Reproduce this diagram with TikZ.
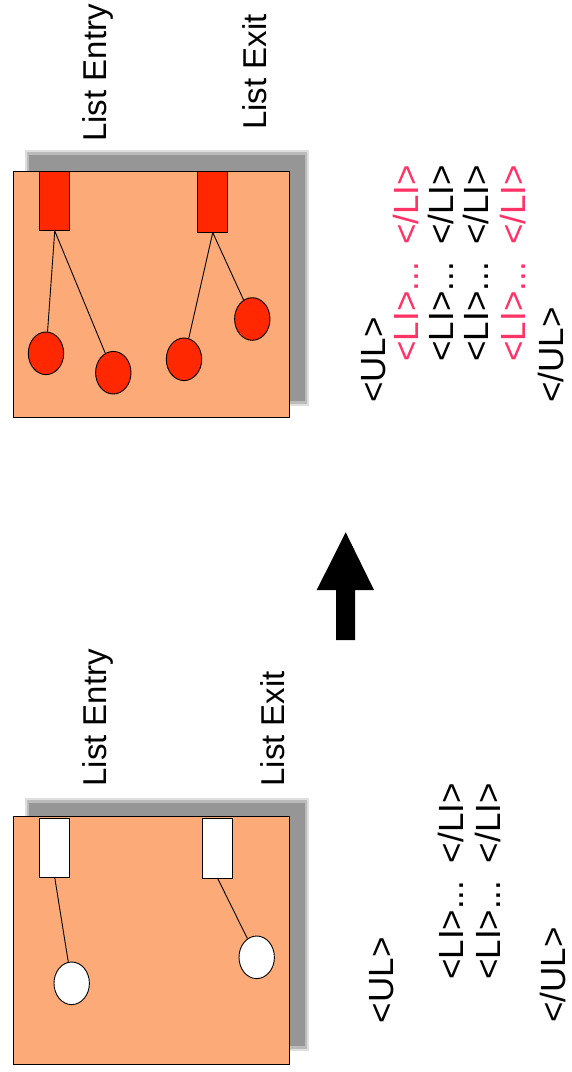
\documentclass[tikz,border=0pt]{standalone}
\usepackage{fontspec}
\setmainfont{Liberation Sans}
\usetikzlibrary{shapes.geometric}
\definecolor{boxfill}{RGB}{252,170,120}
\definecolor{redfill}{RGB}{255,40,0}
\definecolor{pinktext}{RGB}{255,51,102}
\definecolor{shadowgray}{RGB}{150,150,150}
\begin{document}
\begin{tikzpicture}[x=1pt,y=-1pt,
  panel/.style={draw=black,line width=0.9pt,fill=boxfill},
  port/.style={draw=black,line width=0.9pt,minimum width=30pt,minimum height=59pt,inner sep=0pt,anchor=north west},
  ball/.style={ellipse,draw=black,line width=0.9pt,minimum width=35.4pt,minimum height=42.6pt,inner sep=0pt},
  link/.style={line width=0.9pt},
  lbl/.style={rotate=90,anchor=base west,font=\fontsize{33}{40}\selectfont,inner sep=0pt},
  code/.style={rotate=90,anchor=base west,font=\fontsize{35}{42}\selectfont,inner sep=0pt},
  pink/.style={text=pinktext},
]
\useasboundingbox (0,0) rectangle (572,1072);

% ---------- top panel ----------
\fill[shadowgray!30] (25,150) rectangle (309,406);
\fill[shadowgray!65] (27,152) rectangle (307,404);
\fill[shadowgray] (29,155) rectangle (305,401);
\draw[panel] (13.3,171) rectangle (289.3,417.7);

\node[port,fill=redfill] (te) at (39.3,171) {};
\node[port,fill=redfill,minimum height=60.7pt] (tx) at (197.3,171) {};
\node[ball,fill=redfill] (tc1) at (46,353.3) {};
\node[ball,fill=redfill] (tc2) at (113.3,372.7) {};
\node[ball,fill=redfill] (tc3) at (184,359.3) {};
\node[ball,fill=redfill] (tc4) at (252.3,319) {};
\draw[link] (te.south) -- (tc1);
\draw[link] (te.south) -- (tc2);
\draw[link] (tx.south) -- (tc3);
\draw[link] (tx.south) -- (tc4);

\node[lbl] (tle) at (106.7,142) {List Entry};
\node[lbl] (tlx) at (266.7,130) {List Exit};

% top code
\node[code] (tul) at (385,403) {<UL>};
\node[code,pink] (t1a) at (418,361.7) {<LI>...};
\node[code,pink] (t1b) at (418,245) {</LI>};
\node[code] (t2a) at (453,361.7) {<LI>...};
\node[code] (t2b) at (453,245) {</LI>};
\node[code] (t3a) at (488,361.7) {<LI>...};
\node[code] (t3b) at (488,245) {</LI>};
\node[code,pink] (t4a) at (525,361.7) {<LI>...};
\node[code,pink] (t4b) at (525,245) {</LI>};
\node[code] (tulc) at (563,403) {</UL>};

% ---------- arrow ----------
\fill[black] (336,640) -- (336,590) -- (316.7,590) -- (345.7,532.3) -- (374,590) -- (355,590) -- (355,640) -- cycle;

% ---------- bottom panel ----------
\fill[shadowgray!30] (25,798) rectangle (309,1051);
\fill[shadowgray!65] (27,800) rectangle (307,1049);
\fill[shadowgray] (29,803) rectangle (305,1046);
\draw[panel] (13.3,816.7) rectangle (289.3,1064);

\node[port,fill=white,minimum height=58.4pt] (be) at (39.3,818.3) {};
\node[port,fill=white,minimum height=59.4pt] (bx) at (202.3,818.3) {};
\node[ball,fill=white] (bc1) at (71.7,983.3) {};
\node[ball,fill=white] (bc2) at (256.7,957.3) {};
\draw[link] (be.south) -- (bc1);
\draw[link] (bx.south) -- (bc2);

\node[lbl] (ble) at (106.7,786.7) {List Entry};
\node[lbl] (blx) at (284,786.7) {List Exit};

% bottom code
\node[code] (bul) at (393,1023.3) {<UL>};
\node[code] (b1a) at (463,980) {<LI>...};
\node[code] (b1b) at (463,863.3) {</LI>};
\node[code] (b2a) at (500,980) {<LI>...};
\node[code] (b2b) at (500,863.3) {</LI>};
\node[code] (bulc) at (565,1023) {</UL>};
\end{tikzpicture}
\end{document}
